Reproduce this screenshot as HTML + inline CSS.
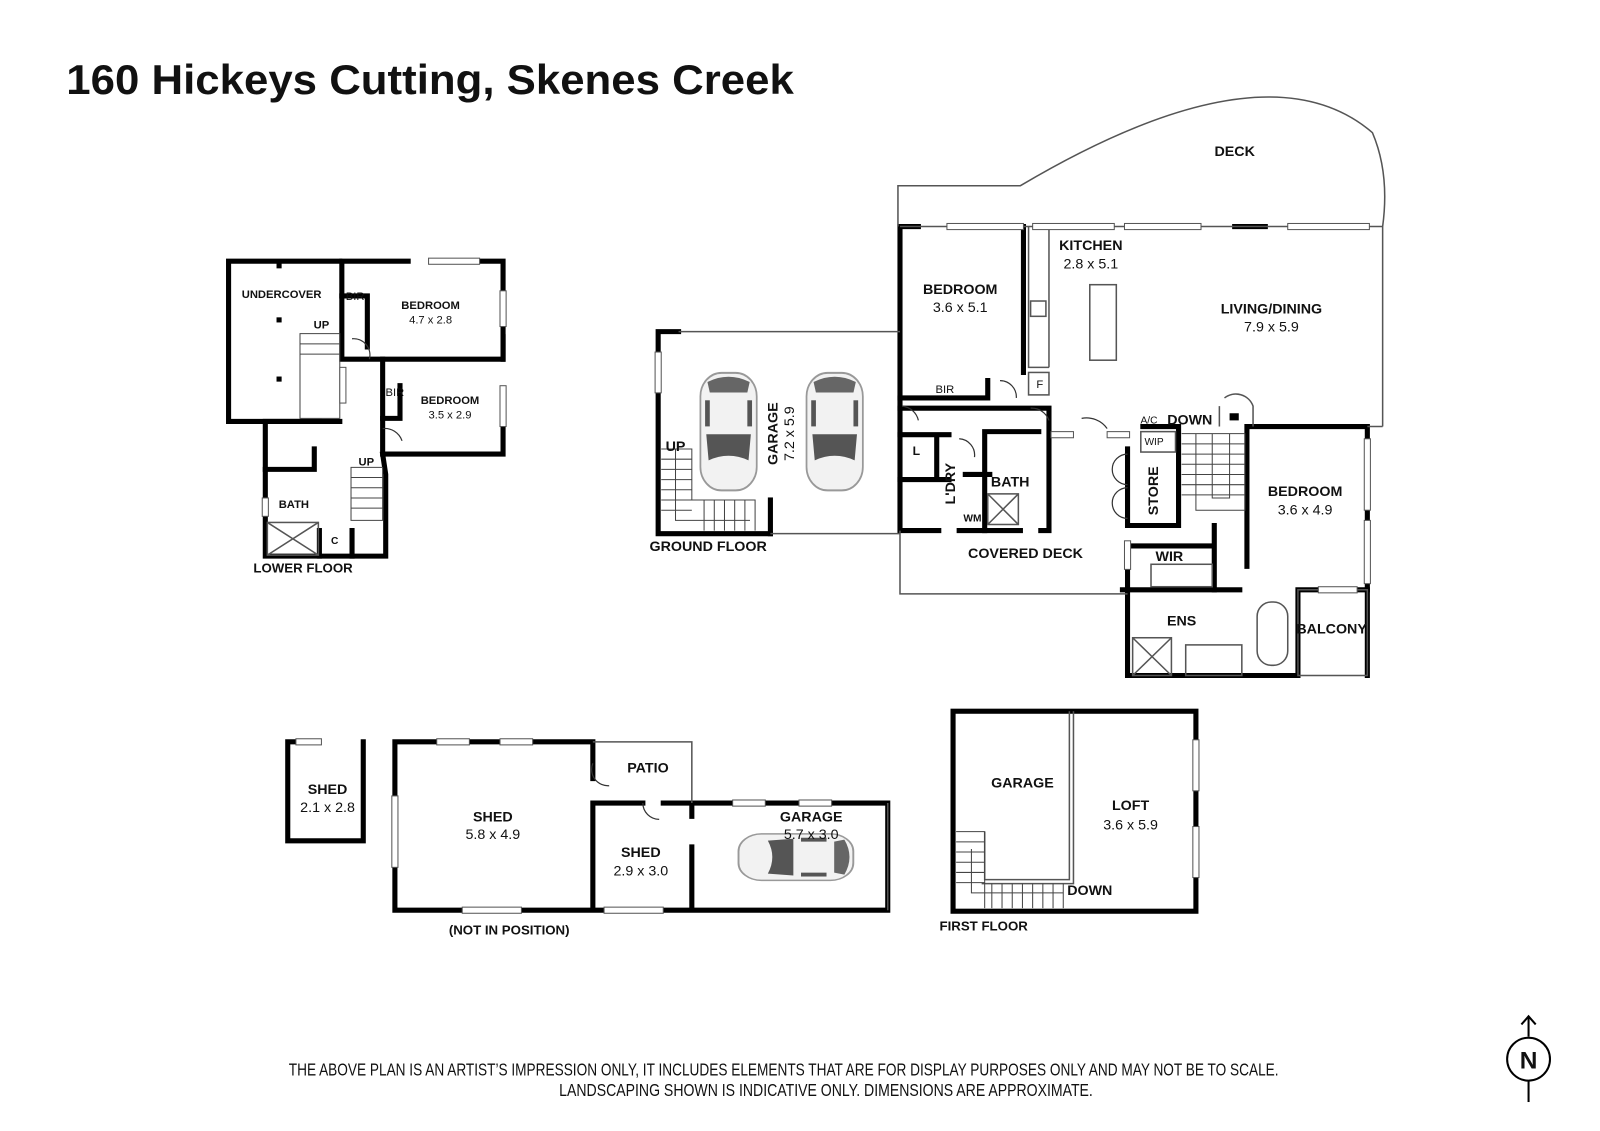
<!DOCTYPE html>
<html><head><meta charset="utf-8"><style>
html,body{margin:0;padding:0;background:#fff}
svg{display:block}
text{font-family:"Liberation Sans Narrow","Liberation Sans",sans-serif;fill:#111}
.b{font-weight:bold}
</style></head><body>
<svg width="1600" height="1131" viewBox="0 0 1600 1131" xmlns="http://www.w3.org/2000/svg">
<defs>
<g id="car">
<rect x="-24" y="-45" width="48" height="90" rx="18" fill="#f2f2f2" stroke="#999" stroke-width="1.5"/>
<path d="M-18 -38 Q0 -46 18 -38 L16 -30 L-16 -30Z" fill="#666"/>
<rect x="-20" y="-24" width="4" height="20" fill="#555"/><rect x="16" y="-24" width="4" height="20" fill="#555"/>
<path d="M-19 2 L19 2 L17 22 Q0 15 -17 22Z" fill="#555"/>
</g>
</defs>
<g transform="scale(1.0204)">
<text x="65" y="92" class="b" style="font-family:'Liberation Sans',sans-serif;font-size:41px" textLength="713" lengthAdjust="spacingAndGlyphs">160 Hickeys Cutting, Skenes Creek</text>

<g fill="none" stroke="#000" stroke-width="5" stroke-linecap="square">
<path d="M333 256 L224 256 L224 413 L333 413"/>
<path d="M335 256 L335 352 L360 352 M335 352 L375 352 L493 352 L493 256 L470 256 M400 256 L335 256"/>
<path d="M360 340 L360 290 L335 290"/>
<path d="M375 352 L375 445 L493 445 L493 420 M493 330 L493 352"/>
<path d="M375 410 L392 410 L392 378"/>
<path d="M313 413 L260 413 L260 545 L378 545 L378 465 L375 445"/>
<path d="M260 460 L308 460 M308 440 L308 460"/>
<path d="M313 520 L313 545 M345 520 L345 545"/>
<path d="M665 325 L645 325 L645 523 L755 523 M645 440 L645 478"/>
<path d="M755 490 L755 523"/>
<path d="M900 222 L882 222 L882 520 L920 520"/>
<path d="M1003 222 L1003 365"/>
<path d="M882 390 L968 390 L968 373"/>
<path d="M882 400 L1028 400 L1028 520 L1020 520 M940 520 L1000 520"/>
<path d="M882 426 L930 426 M882 470 L930 470 M918 426 L918 470"/>
<path d="M965 423 L1018 423 M965 423 L965 520 M946 465 L970 465"/>
<path d="M1105 440 L1105 515 M1105 545 L1105 662 L1272 662"/>
<path d="M1105 515 L1155 515 L1155 418 L1120 418"/>
<path d="M1105 535 L1190 535 L1190 578 L1105 578 M1190 515 L1190 535"/>
<path d="M1222 418 L1340 418 L1340 578 L1272 578 L1272 662 M1222 418 L1222 555 M1190 578 L1215 578"/>
<path d="M1340 578 L1340 662 M1100 578 L1105 578"/>
<path d="M1233 222 L1213 222 M1210 222 L1240 222"/>
<path d="M282 727 L282 824 L356 824 L356 727 M282 727 L290 727"/>
<path d="M387 727 L387 892 L870 892 L870 787 L678 787 M581 727 L387 727 M581 727 L581 763 M581 787 L581 892 M581 787 L630 787 M650 787 L678 787 M678 787 L678 800 M678 830 L678 892"/>
<rect x="934" y="697" width="238" height="196"/>
</g>

<g fill="none" stroke="#555" stroke-width="1.5">
<path d="M880 222 L880 182 L1000 182 Q1240 40 1345 130 Q1362 170 1355 222"/>
<path d="M882 222 L1355 222 M1355 222 L1355 418 M1340 418 L1355 418"/>
<path d="M882 520 L882 582 L1105 582"/>
<path d="M665 325 L882 325 M755 523 L882 523 M870 787 L870 892"/>
<path d="M581 727 L678 727 L678 787"/>
<path d="M1048 697 L1048 862 L965 862 L965 815 M1052 697 L1052 866 L962 866"/>
<path d="M1008 222 L1008 360 L1028 360 M1028 222 L1028 360"/>
<rect x="1068" y="279" width="26" height="74"/>
<rect x="1008" y="365" width="20" height="22"/>
<rect x="1010" y="295" width="15" height="15"/>
<rect x="1272" y="578" width="68" height="84"/>
<rect x="1232" y="590" width="30" height="62" rx="14"/>
<rect x="1110" y="625" width="38" height="37"/><path d="M1110 625 L1148 662 M1148 625 L1110 662"/>
<rect x="1162" y="632" width="55" height="30"/>
<rect x="1128" y="553" width="60" height="22"/>
<rect x="1118" y="423" width="34" height="20"/>
<rect x="968" y="484" width="30" height="30"/><path d="M968 484 L998 514 M998 484 L968 514"/>
<rect x="262" y="512" width="50" height="32"/><path d="M262 512 L312 544 M312 512 L262 544"/>
<path d="M1200 390 A18 18 0 0 1 1228 398 L1228 418"/>
<path d="M1195 418 L1195 398"/>
</g>

<g fill="none" stroke="#444" stroke-width="1">
<path d="M1158 425 L1220 425 L1220 500 L1172 500 L1172 425 M1158 435 L1220 435 M1158 445 L1220 445 M1158 455 L1220 455 M1158 465 L1220 465 M1158 475 L1220 475 M1158 485 L1220 485 M1188 425 L1188 488 L1205 488 L1205 425"/>
<path d="M648 440 L678 440 L678 490 L740 490 L740 520 M648 450 L678 450 M648 460 L678 460 M648 470 L678 470 M648 480 L678 480 M648 490 L678 490 M648 500 L678 500 M690 490 L690 520 M700 490 L700 520 M710 490 L710 520 M720 490 L720 520 M730 490 L730 520 M662 440 L662 510 L735 510"/>
<path d="M294 327 L333 327 L333 410 L294 410 Z M294 337 L333 337 M294 347 L333 347"/>
<path d="M344 458 L375 458 L375 510 L344 510 Z M344 468 L375 468 M344 478 L375 478 M344 488 L375 488 M344 498 L375 498"/>
<path d="M937 815 L965 815 L965 890 M937 825 L965 825 M937 835 L965 835 M937 845 L965 845 M937 855 L965 855 M937 865 L965 865 M972 866 L972 890 M982 866 L982 890 M992 866 L992 890 M1002 866 L1002 890 M1012 866 L1012 890 M1022 866 L1022 890 M1032 866 L1032 890 M1042 866 L1042 890 M952 832 L952 875 L1042 875"/>
</g>

<g fill="none" stroke="#333" stroke-width="1.2">
<path d="M345 332 A16 16 0 0 1 362 352 M375 420 A18 18 0 0 1 394 432 M980 373 A16 16 0 0 1 996 390 M884 398 A18 18 0 0 1 900 412 M1010 400 A18 18 0 0 1 1028 412 M1060 410 A25 25 0 0 1 1085 420 M1105 445 A14 14 0 0 0 1105 475 M1105 478 A14 14 0 0 0 1105 508 M581 748 A16 16 0 0 0 597 770 M630 787 A16 16 0 0 0 646 803 M940 430 A16 16 0 0 1 955 448"/>
</g>

<g fill="#fff" stroke="#555" stroke-width="1">
<rect x="928" y="219" width="75" height="6"/><rect x="1012" y="219" width="80" height="6"/><rect x="1102" y="219" width="75" height="6"/><rect x="1262" y="219" width="80" height="6"/>
<rect x="420" y="253" width="50" height="6"/><rect x="490" y="285" width="6" height="35"/><rect x="490" y="378" width="6" height="40"/>
<rect x="333" y="360" width="6" height="35"/><rect x="257" y="488" width="6" height="18"/>
<rect x="642" y="345" width="6" height="40"/>
<rect x="1102" y="530" width="6" height="28"/><rect x="1337" y="430" width="6" height="70"/><rect x="1337" y="510" width="6" height="62"/><rect x="1292" y="575" width="38" height="6"/>
<rect x="1030" y="423" width="22" height="6"/><rect x="1085" y="423" width="22" height="6"/>
<rect x="290" y="724" width="25" height="6"/><rect x="428" y="724" width="32" height="6"/><rect x="490" y="724" width="32" height="6"/>
<rect x="384" y="780" width="6" height="70"/><rect x="453" y="889" width="58" height="6"/><rect x="592" y="889" width="58" height="6"/>
<rect x="718" y="784" width="32" height="6"/><rect x="783" y="784" width="32" height="6"/>
<rect x="1169" y="725" width="6" height="50"/><rect x="1169" y="810" width="6" height="50"/>
</g>
<g fill="#000"><rect x="271" y="258" width="5" height="5"/><rect x="271" y="311" width="5" height="5"/><rect x="271" y="369" width="5" height="5"/><rect x="1205" y="405" width="9" height="7"/></g>

<use href="#car" transform="translate(714,423) scale(1.15,1.28)"/>
<use href="#car" transform="translate(818,423) scale(1.15,1.28)"/>
<use href="#car" transform="translate(780,840) rotate(90) scale(0.95,1.25)"/>

<g font-size="14" text-anchor="middle" class="b">
<text x="1210" y="153">DECK</text>
<text x="1069" y="245">KITCHEN</text><text x="1069" y="263" font-weight="normal">2.8 x 5.1</text>
<text x="941" y="288">BEDROOM</text><text x="941" y="306" font-weight="normal">3.6 x 5.1</text>
<text x="1246" y="307">LIVING/DINING</text><text x="1246" y="325" font-weight="normal">7.9 x 5.9</text>
<text x="926" y="385" font-size="11" font-weight="normal">BIR</text>
<text x="1019" y="380" font-size="11" font-weight="normal">F</text>
<text x="1166" y="416">DOWN</text>
<text x="1126" y="415" font-size="10" font-weight="normal">A/C</text><text x="1131" y="436" font-size="10" font-weight="normal">WIP</text>
<text x="1279" y="486">BEDROOM</text><text x="1279" y="504" font-weight="normal">3.6 x 4.9</text>
<text x="898" y="446" font-size="12">L</text>
<text x="990" y="477">BATH</text>
<text x="953" y="511" font-size="10">WM</text>
<text x="1005" y="547">COVERED DECK</text>
<text x="1146" y="550">WIR</text>
<text x="1158" y="613">ENS</text>
<text x="1305" y="621">BALCONY</text>
<text x="694" y="540">GROUND FLOOR</text>
<text x="662" y="442">UP</text>
<text x="297" y="561" font-size="13">LOWER FLOOR</text>
<text x="276" y="292" font-size="11">UNDERCOVER</text>
<text x="315" y="322" font-size="11">UP</text>
<text x="359" y="456" font-size="11">UP</text>
<text x="348" y="294" font-size="11" font-weight="normal">BIR</text>
<text x="387" y="388" font-size="11" font-weight="normal">BIR</text>
<text x="422" y="303" font-size="11">BEDROOM</text><text x="422" y="317" font-size="11" font-weight="normal">4.7 x 2.8</text>
<text x="441" y="396" font-size="11">BEDROOM</text><text x="441" y="410" font-size="11" font-weight="normal">3.5 x 2.9</text>
<text x="288" y="498" font-size="11">BATH</text>
<text x="328" y="533" font-size="10">C</text>
<text x="321" y="778">SHED</text><text x="321" y="796" font-weight="normal">2.1 x 2.8</text>
<text x="483" y="805">SHED</text><text x="483" y="822" font-weight="normal">5.8 x 4.9</text>
<text x="635" y="757">PATIO</text>
<text x="628" y="840">SHED</text><text x="628" y="858" font-weight="normal">2.9 x 3.0</text>
<text x="795" y="805">GARAGE</text><text x="795" y="822" font-weight="normal">5.7 x 3.0</text>
<text x="499" y="916" font-size="13">(NOT IN POSITION)</text>
<text x="1002" y="772">GARAGE</text>
<text x="1108" y="794">LOFT</text><text x="1108" y="813" font-weight="normal">3.6 x 5.9</text>
<text x="1068" y="877">DOWN</text>
<text x="964" y="912" font-size="13">FIRST FLOOR</text>
</g>
<text transform="translate(762,425) rotate(-90)" font-size="14" class="b" text-anchor="middle">GARAGE</text>
<text transform="translate(778,425) rotate(-90)" font-size="14" text-anchor="middle">7.2 x 5.9</text>
<text transform="translate(936,474) rotate(-90)" font-size="14" class="b" text-anchor="middle">L'DRY</text>
<text transform="translate(1135,481) rotate(-90)" font-size="14" class="b" text-anchor="middle">STORE</text>

<text x="283" y="1054" font-size="17" textLength="970" lengthAdjust="spacingAndGlyphs">THE ABOVE PLAN IS AN ARTIST’S IMPRESSION ONLY, IT INCLUDES ELEMENTS THAT ARE FOR DISPLAY PURPOSES ONLY AND MAY NOT BE TO SCALE.</text>
<text x="548" y="1074" font-size="17" textLength="523" lengthAdjust="spacingAndGlyphs">LANDSCAPING SHOWN IS INDICATIVE ONLY. DIMENSIONS ARE APPROXIMATE.</text>

<g stroke="#000" stroke-width="2" fill="none">
<line x1="1498" y1="996" x2="1498" y2="1016"/><path d="M1491 1004 L1498 996 L1505 1004"/>
<circle cx="1498" cy="1038" r="21"/>
<line x1="1498" y1="1059" x2="1498" y2="1080"/>
</g>
<text x="1498" y="1047" font-size="24" class="b" text-anchor="middle" style="font-family:'Liberation Sans',sans-serif">N</text>
</g>
</svg>
</body></html>
